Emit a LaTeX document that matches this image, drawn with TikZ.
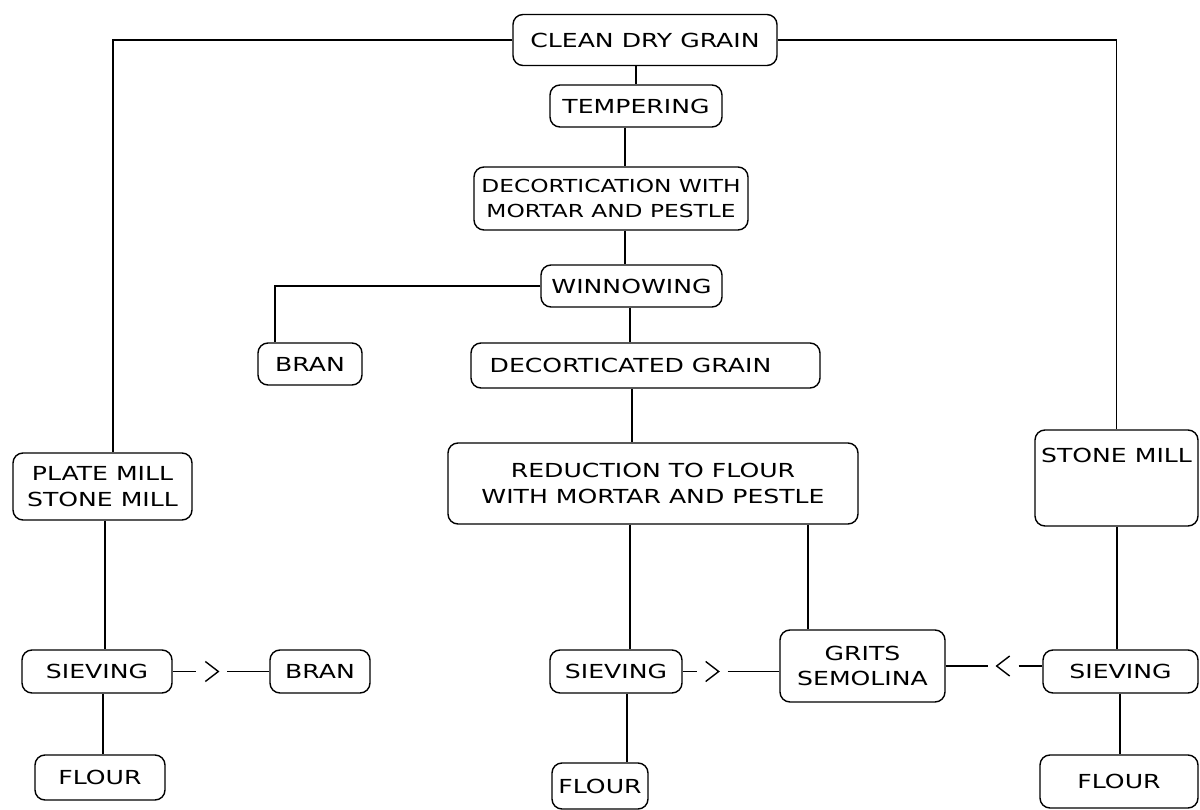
\documentclass[tikz,border=0pt]{standalone}
\usepackage{fontspec}
\setmainfont{DejaVu Sans}[FakeStretch=1.3]
\usetikzlibrary{calc}
\newcommand\vcon[3]{\coordinate (tmpx) at (#1,0); \draw (#2.south -| tmpx) -- (#3.north -| tmpx);}
\begin{document}
\begin{tikzpicture}[x=0.02cm,y=-0.02cm,
  box/.style={draw, line width=0.8pt, rounded corners=0.2cm, inner sep=0pt, align=center,
     font=\fontsize{11}{14.5}\selectfont},
  wh/.style 2 args={minimum width={#1*0.02cm}, minimum height={#2*0.02cm}},
  every path/.style={line width=0.8pt}]
\useasboundingbox (0,0) rectangle (1200,810);
% nodes
\node[box, wh={264}{51}] (clean) at (645,40) {CLEAN DRY GRAIN};
\node[box, wh={172}{42}] (temper) at (636,106) {TEMPERING};
\node[box, wh={274}{63}, font=\fontsize{10.2}{14.5}\selectfont] (decort) at (611,198.5) {DECORTICATION WITH\\MORTAR AND PESTLE};
\node[box, wh={181}{42}] (winnow) at (631.5,286) {WINNOWING};
\node[box, wh={104}{42}] (bran1) at (310,364) {BRAN};
\node[box, wh={349}{45}] (dgrain) at (645.5,365.5) {DECORTICATED GRAIN\hspace*{0.6cm}};
\node[box, wh={410}{81}] (reduct) at (653,483.5) {REDUCTION TO FLOUR\\WITH MORTAR AND PESTLE};
\node[box, wh={179}{67}] (plate) at (102.5,486.5) {PLATE MILL\\STONE MILL};
\node[box, wh={163}{96}, text height=0.3cm, text depth=0.94cm] (stone) at (1116.5,478) {STONE MILL};
\node[box, wh={150}{43}] (sieveL) at (97,671.5) {SIEVING};
\node[box, wh={100}{43}] (bran2) at (320,671.5) {BRAN};
\node[box, wh={132}{43}] (sieveM) at (616,671.5) {SIEVING};
\node[box, wh={165}{72}] (grits) at (862.5,666) {GRITS\\SEMOLINA};
\node[box, wh={155}{43}] (sieveR) at (1120.5,671.5) {SIEVING};
\node[box, wh={130}{45}] (flourL) at (100,777.5) {FLOUR};
\node[box, wh={96}{46}] (flourM) at (600,786) {FLOUR};
\node[box, wh={158}{53}] (flourR) at (1119,781.5) {FLOUR};
% side branches from clean grain
\coordinate (lx) at (113,0);
\draw (clean.west) -| (plate.north -| lx);
\draw (clean.east) -| (stone.north);
% central chain
\draw (clean.south -| temper.north) -- (temper.north);
\vcon{625}{temper}{decort}
\vcon{625}{decort}{winnow}
\coordinate (bx) at (275,0);
\draw (winnow.west) -| (bran1.north -| bx);
\vcon{630}{winnow}{dgrain}
\vcon{632}{dgrain}{reduct}
\vcon{630}{reduct}{sieveM}
\vcon{808}{reduct}{grits}
\vcon{627}{sieveM}{flourM}
% left chain
\vcon{105}{plate}{sieveL}
\vcon{103}{sieveL}{flourL}
% right chain
\vcon{1117}{stone}{sieveR}
\vcon{1120}{sieveR}{flourR}
% sieving -> bran (left)
\path (sieveL.east) -- (bran2.west) coordinate[pos=0.4] (m1);
\draw (sieveL.east) -- ($(m1)+(-15,0)$);
\draw ($(m1)+(-6,-10)$) -- ($(m1)+(7,0)$) -- ($(m1)+(-6,10)$);
\draw ($(m1)+(16,0)$) -- (bran2.west);
% sieving -> grits (middle)
\path (sieveM.east) -- (sieveM.east -| grits.west) coordinate[pos=0.3] (m2);
\draw (sieveM.east) -- ($(m2)+(-15,0)$);
\draw ($(m2)+(-6,-10)$) -- ($(m2)+(7,0)$) -- ($(m2)+(-6,10)$);
\draw ($(m2)+(16,0)$) -- (sieveM.east -| grits.west);
% sieving -> grits (right)
\path (grits.east) -- (grits.east -| sieveR.west) coordinate[pos=0.6] (m3);
\draw (grits.east) -- ($(m3)+(-16,0)$);
\draw ($(m3)+(6,-10)$) -- ($(m3)+(-7,0)$) -- ($(m3)+(6,10)$);
\draw ($(m3)+(15,0)$) -- (grits.east -| sieveR.west);
\end{tikzpicture}
\end{document}
